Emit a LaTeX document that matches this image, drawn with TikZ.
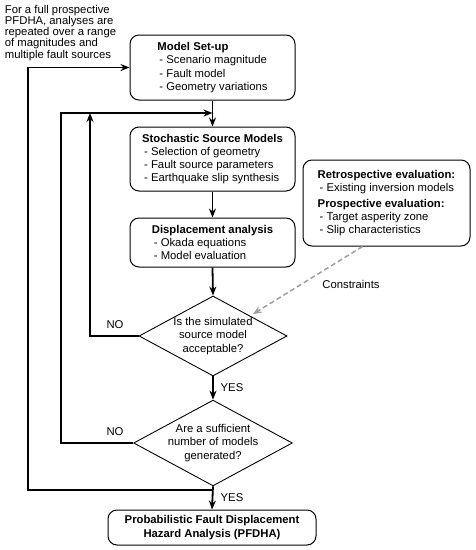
\documentclass[tikz,border=0pt]{standalone}
\usepackage{fontspec}
\setmainfont{Liberation Sans}
\usetikzlibrary{calc}
\usetikzlibrary{shapes.geometric}
\usetikzlibrary{arrows.meta}
\newcommand{\litem}{\hspace*{2pt}- }

\begin{document}
\begin{tikzpicture}[x=1pt, y=-1pt, >={Stealth[length=9pt,width=7pt]}, line width=1.8pt,
	font=\fontsize{11.3}{13.2}\selectfont,
	stepbox/.style={draw, line width=1pt, rounded corners=9pt, align=left, inner sep=0pt, minimum width=165pt},
	query/.style={draw, line width=.9pt, shape=diamond, aspect=1.85, inner sep=0pt,
		minimum width=148pt, minimum height=80pt, align=center}]
	\useasboundingbox (0,0) rectangle (475,550);
	\node[anchor=north west, inner sep=0pt, align=left, font=\fontsize{11.3}{11.3}\selectfont] (note) at (4,4)
		{For a full prospective\\PFDHA, analyses are\\repeated over a range\\of magnitudes and\\multiple fault sources};
	\node[stepbox, minimum height=65pt] (setup) at (212.5,67.5)
		{\textbf{Model Set-up}\\\litem Scenario magnitude\\\litem Fault model\\\litem Geometry variations};
	\node[stepbox, minimum height=64pt] (stoch) at (212.5,159)
		{\textbf{Stochastic Source Models}\\\litem Selection of geometry\\\litem Fault source parameters\\\litem Earthquake slip synthesis};
	\node[stepbox, minimum height=49pt] (disp) at (212.5,242.5)
		{\textbf{Displacement analysis}\\\litem Okada equations\\\litem Model evaluation};
	\node[stepbox, minimum width=167pt, minimum height=86pt] (eval) at (386.5,203)
		{\textbf{Retrospective evaluation:}\\\litem Existing inversion models\\[3pt]\textbf{Prospective evaluation:}\\\litem Target asperity zone\\\litem Slip characteristics};
	\node[query] (accept) at (213,336) {Is the simulated\\source model\\acceptable?};
	\node[query] (enough) at (213,443) {Are a sufficient\\number of models\\generated?};
	\node[stepbox, align=center, minimum width=208pt, minimum height=35pt] (pfdha) at (212,527.5)
		{\textbf{Probabilistic Fault Displacement}\\\textbf{Hazard Analysis (PFDHA)}};
	\node (no1) at (115,325) {NO};
	\node (no2) at (115,432) {NO};
	\node (yes1) at (232,388) {YES};
	\node (yes2) at (232,498) {YES};
	\node (cons) at (351,284) {Constraints};
	% loop corners
	\coordinate (top) at (212.5,113);
	\coordinate (bot) at (212.5,490);
	\coordinate (lo) at (28,490);
	\coordinate (hi) at (28,67.5);
	\draw[->] (setup.south) -- (stoch.north);
	\draw[->] (stoch.south) -- (disp.north);
	\draw[->] (disp.south) -- (accept.north);
	\draw[->] (accept.south) -- (enough.north);
	\draw[->] (enough.south) -- (pfdha.north);
	\draw[->] (bot) -- (lo) -- (hi) -- (setup.west);
	\draw[->] (enough.west) -| (61,113) -- (top);
	\draw[->] (accept.west) -| (90,113);
	\draw[->, gray!75, line width=1.5pt, dash pattern=on 5pt off 3pt, shorten >=3pt]
		($(eval.south)+(-24,0)$) -- (accept.north east);
\end{tikzpicture}
\end{document}
